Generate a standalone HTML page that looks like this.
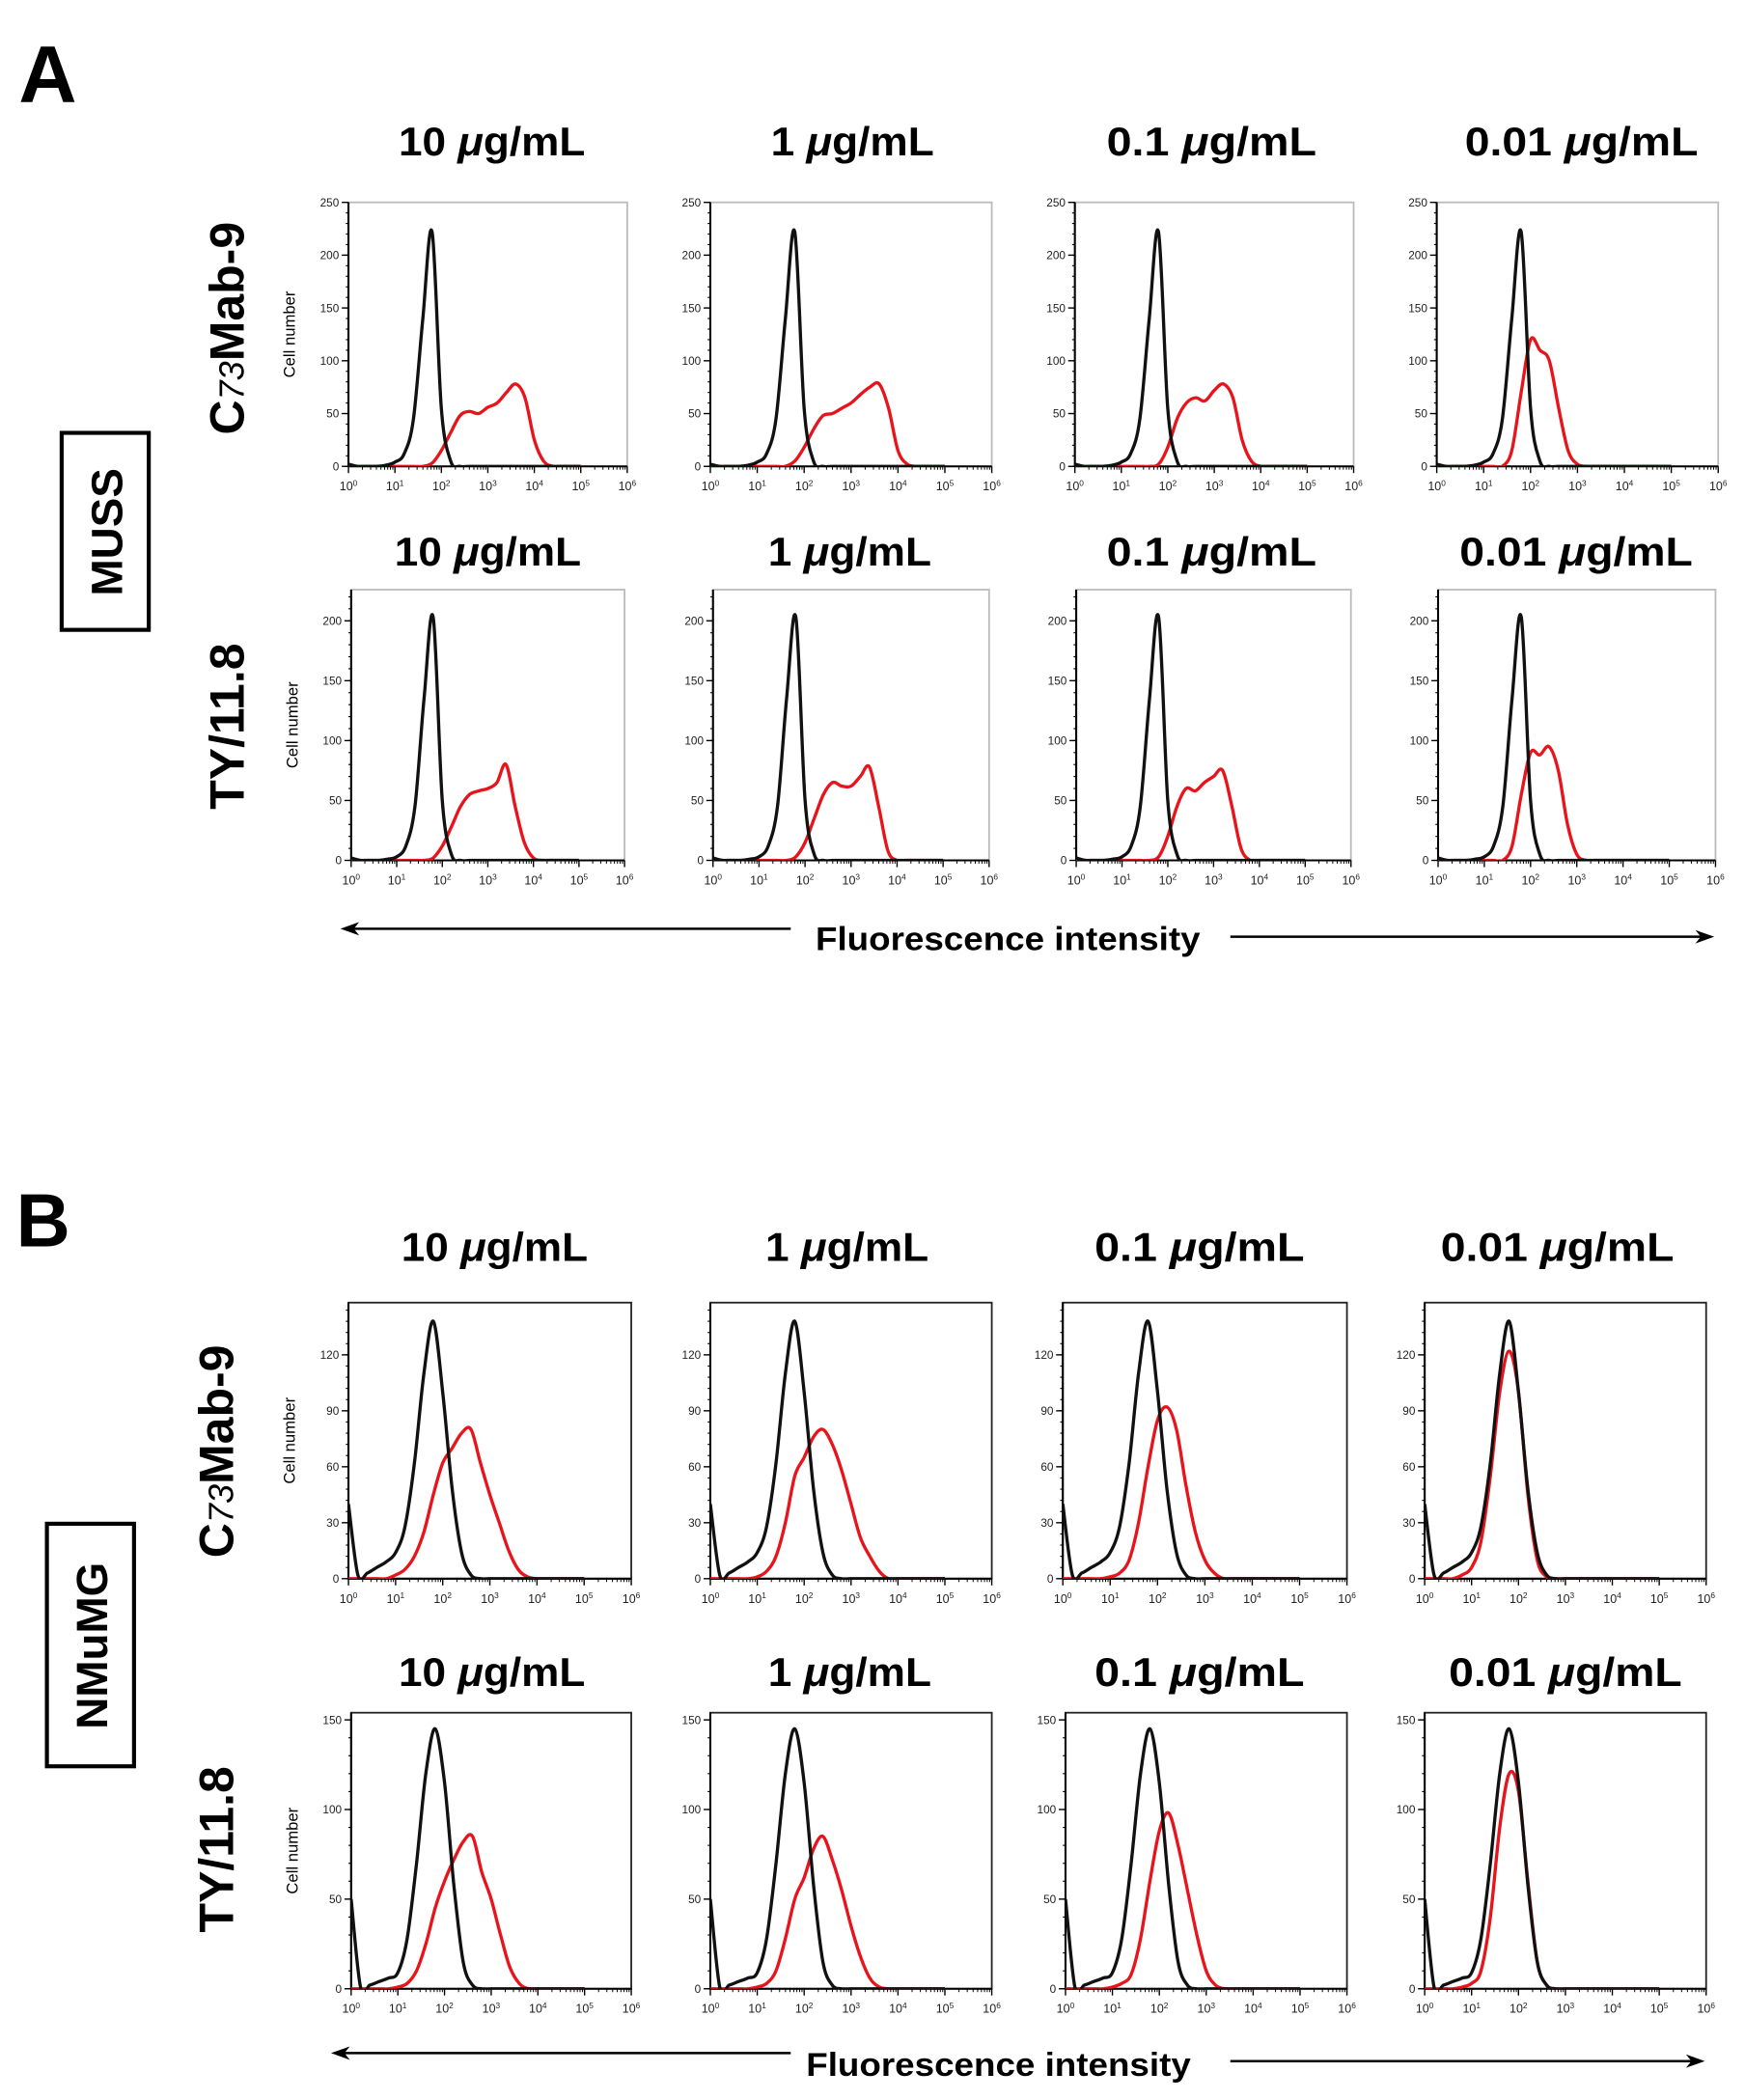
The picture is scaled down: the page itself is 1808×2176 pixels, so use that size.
<!DOCTYPE html>
<html><head><meta charset="utf-8">
<style>
html,body{margin:0;padding:0;background:#fff;}
svg{display:block;font-family:"Liberation Sans",Arial,sans-serif;}
</style></head>
<body>
<svg id="fig" width="1808" height="2176" viewBox="0 0 1302 1567" preserveAspectRatio="none" xmlns="http://www.w3.org/2000/svg"></svg>
<script>
// log10 fluorescence grid (decades)
const gridLog = [0,0.2,0.4,0.6,0.8,1.0,1.2,1.4,1.6,1.8,2.0,2.2,2.4,2.6,2.8,3.0,3.2,3.4,3.6,3.8,4.0,4.2,4.4,4.6,4.8,5.0];
const concentrations = ["10 μg/mL","1 μg/mL","0.1 μg/mL","0.01 μg/mL"];
const xTickExp = ["0","1","2","3","4","5","6"];
const yTicksA1 = [0,50,100,150,200,250];
const yTicksA2 = [0,50,100,150,200];
const yTicksB1 = [0,30,60,90,120];
const yTicksB2 = [0,50,100,150];
// control (black) histograms per row
const blackA1 = [2,0,0,0,1,4,12,45,140,222,55,5,0,0,0,0,0,0,0,0,0,0,0,0,0,0];
const blackA2 = [2,0,0,0,1,3,12,45,135,203,50,5,0,0,0,0,0,0,0,0,0,0,0,0,0,0];
const blackB1 = [40,2,3,6,9,14,28,62,110,138,100,48,14,2,0,0,0,0,0,0,0,0,0,0,0,0];
const blackB2 = [50,1,2,4,6,9,28,70,120,145,115,58,15,2,0,0,0,0,0,0,0,0,0,0,0,0];
// antibody (red) histograms
const redA1c1 = [0,0,0,0,0,0,0,0,0,3,15,32,48,52,50,56,60,70,78,65,25,5,0,0,0,0];
const redA1c2 = [0,0,0,0,0,0,0,0,0,5,18,35,48,50,55,60,68,75,78,55,15,2,0,0,0,0];
const redA1c3 = [0,0,0,0,0,0,0,0,0,2,18,45,60,65,62,72,78,65,25,5,0,0,0,0,0,0];
const redA1c4 = [0,0,0,0,0,0,0,0,15,70,120,110,100,55,15,2,0,0,0,0,0,0,0,0,0,0];
const redA2c1 = [0,0,0,0,0,0,0,0,0,2,12,28,45,55,58,60,65,80,45,15,2,0,0,0,0,0];
const redA2c2 = [0,0,0,0,0,0,0,0,0,3,15,35,55,65,62,62,70,78,45,8,0,0,0,0,0,0];
const redA2c3 = [0,0,0,0,0,0,0,0,0,3,20,45,60,58,65,70,75,45,10,0,0,0,0,0,0,0];
const redA2c4 = [0,0,0,0,0,0,0,0,12,55,90,88,95,75,30,5,0,0,0,0,0,0,0,0,0,0];
const redB1c1 = [0,0,0,0,0,2,5,12,25,45,62,70,78,80,62,45,30,15,5,1,0,0,0,0,0,0];
const redB1c2 = [0,0,0,0,0,1,4,12,30,55,65,76,80,72,58,40,22,12,4,0,0,0,0,0,0,0];
const redB1c3 = [0,0,0,0,0,1,3,10,30,60,85,92,80,50,25,10,3,0,0,0,0,0,0,0,0,0];
const redB1c4 = [0,0,0,0,2,6,20,55,100,122,100,45,10,1,0,0,0,0,0,0,0,0,0,0,0,0];
const redB2c1 = [0,0,0,0,0,1,3,10,25,45,60,72,82,85,65,50,30,12,3,0,0,0,0,0,0,0];
const redB2c2 = [0,0,0,0,0,1,3,10,28,50,62,78,85,72,55,35,18,6,1,0,0,0,0,0,0,0];
const redB2c3 = [0,0,0,0,0,1,3,8,28,60,88,98,80,55,30,10,2,0,0,0,0,0,0,0,0,0];
const redB2c4 = [0,0,0,0,1,3,10,40,90,120,110,60,15,2,0,0,0,0,0,0,0,0,0,0,0,0];

const NS="http://www.w3.org/2000/svg";
const svg=document.getElementById('fig');
function mk(tag,attrs,parent,text){const e=document.createElementNS(NS,tag);for(const k in attrs)e.setAttribute(k,attrs[k]);if(text!==undefined)e.textContent=text;(parent||svg).appendChild(e);return e;}

const rows=[
 {top:151,bottom:348,ymax:250,ticks:yTicksA1,black:blackA1,reds:[redA1c1,redA1c2,redA1c3,redA1c4],cols:[[260,468],[530,740],[802,1010],[1072,1282]],frame:"#bbb",titleY:116,id:"a-c73mab9"},
 {top:440,bottom:642,ymax:226,ticks:yTicksA2,black:blackA2,reds:[redA2c1,redA2c2,redA2c3,redA2c4],cols:[[262,466],[532,738],[803,1008],[1073,1280]],frame:"#bbb",titleY:422,id:"a-ty118"},
 {top:972,bottom:1178,ymax:148,ticks:yTicksB1,black:blackB1,reds:[redB1c1,redB1c2,redB1c3,redB1c4],cols:[[260,471],[530,740],[793,1005],[1063,1273]],frame:"#222",titleY:941,id:"b-c73mab9"},
 {top:1278,bottom:1484,ymax:154,ticks:yTicksB2,black:blackB2,reds:[redB2c1,redB2c2,redB2c3,redB2c4],cols:[[262,471],[530,740],[795,1005],[1063,1273]],frame:"#222",titleY:1258,id:"b-ty118"}
];
const titleX=[[367,636,904,1180],[364,634,904,1176],[369,632,895,1162],[367,634,895,1168]];

function pathFrom(pts){
  let d="M"+pts[0][0].toFixed(1)+","+pts[0][1].toFixed(1);
  for(let i=0;i<pts.length-1;i++){
    const p0=pts[Math.max(i-1,0)],p1=pts[i],p2=pts[i+1],p3=pts[Math.min(i+2,pts.length-1)];
    const c1=[p1[0]+(p2[0]-p0[0])/6,p1[1]+(p2[1]-p0[1])/6];
    const c2=[p2[0]-(p3[0]-p1[0])/6,p2[1]-(p3[1]-p1[1])/6];
    d+=" C"+c1[0].toFixed(1)+","+c1[1].toFixed(1)+" "+c2[0].toFixed(1)+","+c2[1].toFixed(1)+" "+p2[0].toFixed(1)+","+p2[1].toFixed(1);
  }
  return d;
}

rows.forEach((r,ri)=>{
  r.cols.forEach((c,ci)=>{
    const [x0,x1]=c;
    const g=mk('g',{});
    
    
    const xs=v=>x0+(x1-x0)*v/6;
    const ys=v=>r.bottom-(r.bottom-r.top)*v/r.ymax;
    const t=mk('text',{x:titleX[ri][ci],y:r.titleY,'text-anchor':'middle','font-size':30,'font-weight':'bold','textLength':concentrations[ci].length*17.4,'lengthAdjust':'spacingAndGlyphs'},g);
    
    
    const parts=concentrations[ci].split('μ');
    mk('tspan',{},t,parts[0]);mk('tspan',{'font-style':'italic'},t,'μ');mk('tspan',{},t,parts[1]);
    const fr=mk('rect',{x:x0,y:r.top,width:x1-x0,height:r.bottom-r.top,fill:'none',stroke:r.frame,'stroke-width':1.3},g);
    
    
    mk('line',{x1:x0,y1:r.top,x2:x0,y2:r.bottom,stroke:'#000','stroke-width':1.5},g);
    mk('line',{x1:x0,y1:r.bottom,x2:x1,y2:r.bottom,stroke:'#000','stroke-width':1.5},g);
    const step=r.ticks[1]-r.ticks[0];
    for(let v=0;v<=r.ymax;v+=step/5){const y=ys(v);mk('line',{x1:x0-2,y1:y,x2:x0,y2:y,stroke:'#000','stroke-width':0.8},g);}
    r.ticks.forEach(v=>{
      const y=ys(v);
      mk('line',{x1:x0-5,y1:y,x2:x0,y2:y,stroke:'#000','stroke-width':1},g);
      const tl=mk('text',{x:x0-7,y:y+3,'text-anchor':'end','font-size':8.5,fill:'#222'},g,String(v));
      
      
    });
    xTickExp.forEach((e,i)=>{
      const x=xs(i);
      mk('line',{x1:x,y1:r.bottom,x2:x,y2:r.bottom+5,stroke:'#000','stroke-width':1},g);
      if(i<6){for(let k=2;k<10;k++){const xm=xs(i+Math.log10(k));mk('line',{x1:xm,y1:r.bottom,x2:xm,y2:r.bottom+2.5,stroke:'#000','stroke-width':0.7},g);}}
      const tl=mk('text',{x:x,y:r.bottom+18,'text-anchor':'middle','font-size':9,fill:'#222'},g,'10');
      
      
      mk('tspan',{'font-size':6,dy:-3.5},tl,e);
    });
    if(ci===0){
      const yl=mk('text',{x:0,y:0,transform:`translate(${x0-40},${(r.top+r.bottom)/2}) rotate(-90)`,'text-anchor':'middle','font-size':12},g,'Cell number');
      
      
    }
    const bp=gridLog.map((lv,i)=>[xs(lv),ys(r.black[i]||0)]);
    const rp=gridLog.map((lv,i)=>[xs(lv),ys(r.reds[ci][i]||0)]);
    const clip='clip-'+ri+'-'+ci;
    const cp=mk('clipPath',{id:clip},g);mk('rect',{x:x0,y:r.top-5,width:x1-x0,height:r.bottom-r.top+5},cp);
    const red=mk('path',{d:pathFrom(rp),fill:'none',stroke:'#e8141c','stroke-width':2.4,'clip-path':`url(#${clip})`},g);
    
    
    const blk=mk('path',{d:pathFrom(bp),fill:'none',stroke:'#111','stroke-width':2.4,'clip-path':`url(#${clip})`},g);
    
    
  });
});

function txt(name,attrs,s){const e=mk('text',attrs,svg,s);return e;}
txt('panel-label-a',{x:14,y:76,'font-size':60,'font-weight':'bold'},'A');
txt('panel-label-b',{x:12,y:930,'font-size':56,'font-weight':'bold'},'B');
const b1=mk('rect',{x:46,y:323,width:65,height:147,fill:'none',stroke:'#000','stroke-width':3});

txt('muss-label',{x:0,y:0,transform:'translate(91,397) rotate(-90)','text-anchor':'middle','font-size':33,'font-weight':'bold'},'MUSS');
const b2=mk('rect',{x:35,y:1137,width:65,height:181,fill:'none',stroke:'#000','stroke-width':3});

txt('nmumg-label',{x:0,y:0,transform:'translate(80,1228) rotate(-90)','text-anchor':'middle','font-size':33,'font-weight':'bold'},'NMuMG');
function rowLabel(name,cx,cy,isC){
  const t=txt(name,{x:0,y:0,transform:`translate(${cx},${cy}) rotate(-90)`,'text-anchor':'middle','font-size':36,'font-weight':'bold'},isC?'C':'TY/11.8');
  if(isC){mk('tspan',{'font-size':26,'font-weight':'normal','font-style':'italic'},t,'73');mk('tspan',{},t,'Mab-9');}
}
rowLabel('row-label-a-c73mab9',182,245,true);
rowLabel('row-label-a-ty118',182,542,false);
rowLabel('row-label-b-c73mab9',174,1083,true);
rowLabel('row-label-b-ty118',174,1380,false);
function arrow(name,y1,y2,xl,xr,tx,ty){
  const g=mk('g',{});
  mk('line',{x1:xl+4,y1:y1,x2:590,y2:y1,stroke:'#000','stroke-width':1.8},g);
  mk('path',{d:`M${xl},${y1} l14,-5 l-4,5 l4,5 z`,fill:'#000'},g);
  mk('line',{x1:918,y1:y2,x2:xr-4,y2:y2,stroke:'#000','stroke-width':1.8},g);
  mk('path',{d:`M${xr},${y2} l-14,-5 l4,5 l-4,5 z`,fill:'#000'},g);
  const t=mk('text',{x:tx,y:ty,'text-anchor':'middle','font-size':25,'font-weight':'bold','textLength':287,'lengthAdjust':'spacingAndGlyphs'},g,'Fluorescence intensity');
  
}
arrow('fluorescence-arrow-a',693,699,254,1279,752,709);
arrow('fluorescence-arrow-b',1532,1538,247,1272,745,1549);
</script>
</body></html>
